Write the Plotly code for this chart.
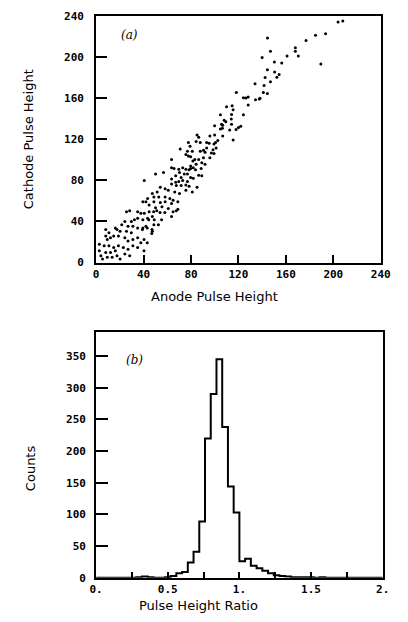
import plotly.graph_objects as go

# ---- panel (a): scatter ----
anode = [
    204, 208, 185, 193.5, 177, 168, 168, 170.5, 161, 156.5, 150.3, 189.5, 147, 144.5, 140,
    144.4, 150.5, 154.3, 152.4, 147, 144.4, 142.5, 134, 141.6, 141, 137.6, 134.4, 128.2,
    124.2, 126.3, 128.2, 138.2, 118.2, 124.2, 110, 115.5, 114.2, 104.8, 108, 109.4, 114,
    106.7, 112.6, 120, 122, 115.5, 114.7, 114.2, 105.8, 106.5, 99.9, 118, 104.8, 106.7, 99.9,
    95.9, 86.5, 102.6, 100.7, 99.4, 95.3, 93.2, 87.8, 90.5, 91.9, 87.8, 98.6, 99.4, 97.2,
    86.5, 90.5, 101.2, 95.9, 93.2,
    85.1, 84.3, 77.8, 79.2, 77, 81.1, 70.9, 75.7, 77.8, 79.7, 81.6, 83.2, 84.3, 81.9, 79.7,
    63.6, 69.7, 73, 75.7, 78.4, 79.7, 83.8, 63.6, 65.7, 70.3, 74.3, 77, 67.1, 71.7, 79.7,
    81.9, 86.5, 56.8, 50.1, 63.6, 67.1, 69.7, 73, 77, 63.6, 67.6, 71.7, 75.7, 78.4, 75.7,
    85.1, 81.1, 70.3, 66.3, 60.8, 58.2, 54.1, 51.5, 47.4, 48.7, 52.8, 58.2, 62.2, 64.9, 68.9,
    63.6, 58.2, 54.1, 48.7, 43.4, 42, 39.4, 44.7, 50.1, 55.5, 60.8, 64.9, 67.6, 63.6, 44.7,
    40.6, 43.4, 47.4, 39.4, 42, 39.4, 68.9, 48.7, 89.1, 91.8, 89.1, 88.6, 40.6, 46.9, 47.4,
    25.6, 28.3, 35, 37.7, 48.5, 51.1, 53.9, 57.9, 32.3, 35, 44.4, 49, 29.7, 24.2, 55.2, 52.5,
    21.6, 26.9, 31, 35, 39, 43.1, 47.1, 16.2, 17.6, 20.2, 25.6, 29.7, 8.1, 10.8, 8.1, 12.1,
    9.4, 14.8, 18.8, 24.2, 26.9, 31, 35, 40.4, 37.7, 43.1, 2.7, 6.8, 10.8, 14.8, 18.8, 22.9,
    26.9, 31, 35, 40.4, 16.2, 12.1, 8.1, 2.7, 4, 5.4, 9.4, 13.5, 17.6, 20.2, 24.2, 28.3,
]
cathode = [
    234, 235, 221, 222.5, 216, 209, 205.5, 201, 201, 194, 195, 193, 205.5, 218.5, 199.5,
    187.5, 185.4, 182.8, 180.2, 175.8, 164.4, 180, 174, 172.3, 165.4, 159, 158.3, 153.3,
    160.2, 160, 161, 159.7, 165.4, 143.8, 151.5, 148.5, 144, 143.8, 138.3, 137, 139.6,
    133.6, 128.8, 131.3, 132.6, 119.3, 152.6, 134.5, 134.5, 130.5, 133, 129.5, 129.8, 123.1, 124.1,
    123.1, 121.9, 118.7, 116.8, 115.2, 116.1, 116.8, 116.8, 109.2, 107.3, 108.2, 109.8, 106, 106.6,
    100.3, 101.9, 111.4, 101.9, 111.4,
    124.1, 117.8, 116.8, 113, 108.2, 108.2, 110.4, 105, 103.5, 102.8, 98.7, 100.3, 95.5, 92.3, 94,
    100.3, 90.7, 92.3, 90.7, 90.2, 91.4, 90.2, 92.3, 91.4, 87.6, 86, 86, 84.4, 82.8, 82.8,
    81.9, 85, 87.6, 86, 81.2, 78.1, 78.7, 79.7, 78.7, 76.5, 74.9, 74.9, 75.5, 74.3, 70.2,
    73.3, 68.5, 67.1, 68.5, 70.2, 71.7, 73.3, 68.5, 67.1, 63.8, 63.8, 63.8, 62.2, 60.6, 59,
    57.4, 59, 58.4, 59, 62.2, 59, 59, 55.9, 53.3, 54.3, 52.6, 49.5, 50.4, 44.7, 49.5,
    47.9, 43.1, 44.7, 41.6, 35.2, 33.6, 51.7, 36.8, 97.1, 95.5, 84.4, 91.4, 79.7, 28.3, 30.5,
    49.5, 50.4, 49.5, 47.9, 49.5, 50.4, 48.6, 48.6, 41.6, 43.1, 41.6, 41.6, 40, 40, 41.6, 36.8,
    36.8, 35.2, 35.2, 33.6, 32.1, 33.6, 32.1, 33.6, 32.1, 30.5, 30.5, 28.9, 32.1, 28.9, 25.7, 24.1,
    22.5, 25.7, 25.7, 24.1, 20.9, 22.5, 24.1, 22.5, 19.3, 19.3, 17.8, 16.2, 16.2, 14.6, 16.2, 14.6,
    13, 16.2, 14.6, 11.4, 11.4, 9.8, 9.8, 11.4, 6.7, 3.5, 5.1, 5.1, 6.7, 3.5, 8.3, 6.7,
]

# ---- panel (b): histogram of pulse height ratio ----
ratio_bin_left = [
    0.00, 0.04, 0.08, 0.12, 0.16, 0.20, 0.24, 0.28, 0.32, 0.36,
    0.40, 0.44, 0.48, 0.52, 0.56, 0.60, 0.64, 0.68, 0.72, 0.76,
    0.80, 0.84, 0.88, 0.92, 0.96, 1.00, 1.04, 1.08, 1.12, 1.16,
    1.20, 1.24, 1.28, 1.32, 1.36, 1.40, 1.44, 1.48, 1.52, 1.56,
    1.60, 1.64, 1.68, 1.72, 1.76, 1.80, 1.84, 1.88, 1.92, 1.96,
]
counts = [
    0, 0, 0, 0, 0, 0, 0, 1, 2, 1,
    0, 0, 1, 3, 7, 9, 24, 41, 89, 220,
    290, 345, 238, 144, 103, 26, 30, 19, 15, 11,
    7, 4, 3, 2, 1, 1, 1, 1, 0, 1,
    0, 0, 0, 0, 0, 0, 0, 0, 0, 0,
]
ratio_end = 2.0

a_ticks = [0, 40, 80, 120, 160, 200, 240]
a_ticktext = ["0", "40", "80", "120", "160", "200", "240"]
b_xticks = [0, 0.25, 0.5, 0.75, 1.0, 1.25, 1.5, 1.75, 2.0]
b_xticktext = ["0.", "", "0.5", "", "1.", "", "1.5", "", "2."]
b_yticks = [0, 50, 100, 150, 200, 250, 300, 350]

W, H = 408, 622
tickfont = dict(family="DejaVu Sans Mono", size=11, color="black", weight="bold")
titlefont = dict(family="DejaVu Sans", size=13, color="black")

fig = go.Figure()
fig.add_trace(go.Scatter(
    x=anode, y=cathode, mode="markers",
    marker=dict(size=3, color="black"),
    xaxis="x", yaxis="y", showlegend=False, hoverinfo="skip",
))
fig.add_trace(go.Scatter(
    x=ratio_bin_left + [ratio_end], y=counts + [counts[-1]], mode="lines",
    line=dict(shape="hv", color="black", width=2),
    xaxis="x2", yaxis="y2", showlegend=False, hoverinfo="skip",
))

axis_common = dict(
    showline=True, mirror=True, linecolor="black", linewidth=2,
    showgrid=False, zeroline=False, ticks="inside", tickcolor="black",
    tickwidth=1.5, tickfont=tickfont,
)

fig.update_layout(
    width=W, height=H,
    margin=dict(l=0, r=0, t=0, b=0),
    paper_bgcolor="white", plot_bgcolor="white",
    xaxis=dict(axis_common, domain=[93 / W, 390 / W], anchor="y", range=[0, 240],
               tickvals=a_ticks, ticktext=a_ticktext, ticklen=8, ticklabelstandoff=0),
    yaxis=dict(axis_common, domain=[1 - 262 / H, 1 - 10 / H], anchor="x", range=[0, 240],
               tickvals=a_ticks, ticktext=a_ticktext, ticklen=11, ticklabelstandoff=8),
    xaxis2=dict(axis_common, domain=[93 / W, 392 / W], anchor="y2", range=[0, 2],
                tickvals=b_xticks, ticktext=b_xticktext, ticklen=6, ticklabelstandoff=0),
    yaxis2=dict(axis_common, domain=[1 - 584 / H, 1 - 333 / H], anchor="x2", range=[0, 388],
                tickvals=b_yticks, ticklen=12, ticklabelstandoff=6),
    annotations=[
        dict(text="Cathode Pulse Height", x=22 / W, y=1 - 136 / H, xref="paper", yref="paper",
             textangle=-90, showarrow=False, font=titlefont, xanchor="center", yanchor="middle"),
        dict(text="Anode Pulse Height", x=216 / W, y=1 - 297 / H, xref="paper", yref="paper",
             showarrow=False, font=titlefont, xanchor="center", yanchor="middle"),
        dict(text="Counts", x=24 / W, y=1 - 472 / H, xref="paper", yref="paper",
             textangle=-90, showarrow=False, font=titlefont, xanchor="center", yanchor="middle"),
        dict(text="Pulse Height Ratio", x=200 / W, y=1 - 612 / H, xref="paper", yref="paper",
             showarrow=False, font=titlefont, xanchor="center", yanchor="middle"),
        dict(text="(a)", x=128 / W, y=1 - 30 / H, xref="paper", yref="paper",
             showarrow=False, font=dict(family="DejaVu Serif", size=12, color="black",
                                        style="italic"), xanchor="center", yanchor="middle"),
        dict(text="(b)", x=133 / W, y=1 - 362 / H, xref="paper", yref="paper",
             showarrow=False, font=dict(family="DejaVu Serif", size=12, color="black",
                                        style="italic"), xanchor="center", yanchor="middle"),
    ],
)

fig.write_html("out.html")
